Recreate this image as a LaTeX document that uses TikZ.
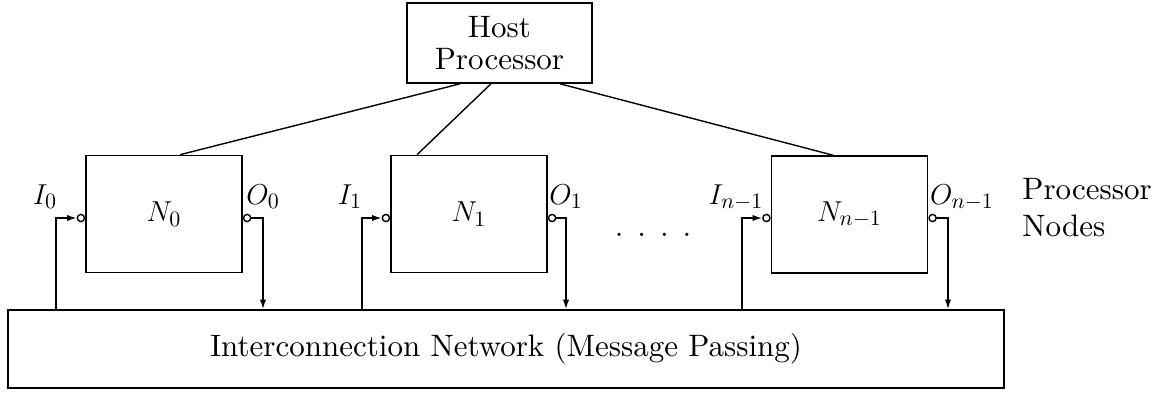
\documentclass[tikz,border=0pt]{standalone}
\usepackage{fontspec}
\setmainfont{lmroman10-regular.otf}
\usetikzlibrary{arrows.meta}
\begin{document}
\begin{tikzpicture}[x=0.5pt,y=-0.5pt,
  every node/.style={font=\fontsize{15.5}{18.5}\selectfont},
  hostbox/.style={draw, line width=0.8pt, minimum width=92.5pt, minimum height=40pt,
    inner sep=0pt, align=center, font=\fontsize{15.5}{16.3}\selectfont},
  unitbox/.style={draw, line width=0.8pt, minimum width=78pt, minimum height=58.5pt, inner sep=0pt},
  netbox/.style={draw, line width=0.8pt, minimum width=498pt, minimum height=39pt, inner sep=0pt},
  port/.style={circle, draw, fill=white, line width=0.7pt, inner sep=0pt, minimum size=3.6pt},
  link/.style={line width=0.7pt},
  flow/.style={line width=0.8pt, -{Latex[length=4.8pt,width=3.2pt]}}]
\useasboundingbox (0,0) rectangle (1167,393);

% host, processor nodes and network
\node[hostbox] (host) at (499.5,43) {Host\\Processor};
\node[unitbox] (n0) at (164,214) {$N_0$};
\node[unitbox] (n1) at (469,214) {$N_1$};
\node[unitbox] (nk) at (849.5,214.5) {$N_{n-1}$};
\node[netbox] (net) at (506,349) {Interconnection Network (Message Passing)};

% helper coordinates
\coordinate (portrow) at (0,218);
\coordinate (h0) at (460,0);  \coordinate (t0) at (180,0);
\coordinate (h1) at (491,0);  \coordinate (t1) at (417,0);
\coordinate (h2) at (560,0);  \coordinate (t2) at (833,0);
\coordinate (n0feed) at (56,0);  \coordinate (n0drop) at (263,0);
\coordinate (n1feed) at (362,0); \coordinate (n1drop) at (566,0);
\coordinate (nkfeed) at (742,0); \coordinate (nkdrop) at (948,0);

% ports
\node[port, anchor=east] (n0in)  at (n0.west |- portrow) {};
\node[port, anchor=west] (n0out) at (n0.east |- portrow) {};
\node[port, anchor=east] (n1in)  at (n1.west |- portrow) {};
\node[port, anchor=west] (n1out) at (n1.east |- portrow) {};
\node[port, anchor=east] (nkin)  at (nk.west |- portrow) {};
\node[port, anchor=west] (nkout) at (nk.east |- portrow) {};

% host links
\draw[link] (host.south -| h0) -- (n0.north -| t0);
\draw[link] (host.south -| h1) -- (n1.north -| t1);
\draw[link] (host.south -| h2) -- (nk.north -| t2);

% network to inputs, outputs to network
\draw[flow] (n0feed |- net.north) |- (n0in.west);
\draw[flow] (n0out.east) -| (n0drop |- net.north);
\draw[flow] (n1feed |- net.north) |- (n1in.west);
\draw[flow] (n1out.east) -| (n1drop |- net.north);
\draw[flow] (nkfeed |- net.north) |- (nkin.west);
\draw[flow] (nkout.east) -| (nkdrop |- net.north);

% port labels
\node[anchor=base] (li0) at (45,204)  {$I_0$};
\node[anchor=base] (lo0) at (263,204) {$O_0$};
\node[anchor=base] (li1) at (350,204) {$I_1$};
\node[anchor=base] (lo1) at (566,204) {$O_1$};
\node[anchor=base] (lik) at (736,204) {$I_{n-1}$};
\node[anchor=base] (lok) at (962,204) {$O_{n-1}$};

% ellipsis between nodes
\node[anchor=base] (gap) at (653,236) {.\hspace{7pt}.\hspace{7pt}.\hspace{7pt}.};

% side caption
\node[anchor=base west, inner sep=0pt] (capa) at (1022,199) {Processor};
\node[anchor=base west, inner sep=0pt] (capb) at (1022,236) {Nodes};
\end{tikzpicture}
\end{document}
